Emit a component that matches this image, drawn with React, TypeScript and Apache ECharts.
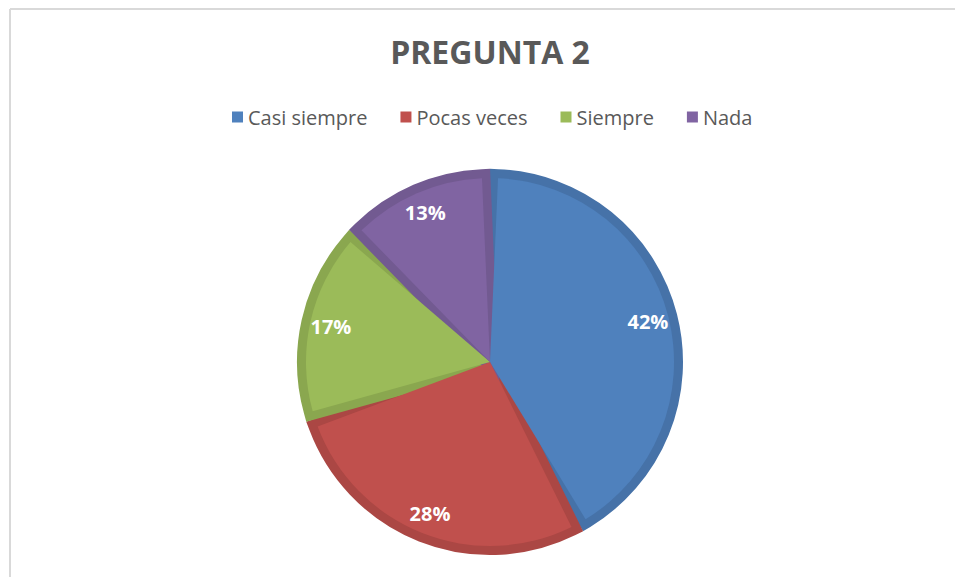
import React, { useEffect, useRef } from "react";
import * as echarts from "echarts";

const categories = ["Casi siempre", "Pocas veces", "Siempre", "Nada"];
const values = [42, 28, 17, 13];
const fillColors = ["#4F81BD", "#C0504D", "#9BBB59", "#8064A2"];
const bandColors = ["#4672A8", "#AB4744", "#8AA74F", "#725A91"];
const titleText = "PREGUNTA 2";

export default function App() {
  const ref = useRef<HTMLDivElement>(null);
  useEffect(() => {
    const chart = echarts.init(ref.current as HTMLDivElement, null, { renderer: "svg" });
    const center = [490, 362];
    const R = 193;
    const pad = 5;
    const base: any = {
      type: "pie",
      center,
      startAngle: 90,
      clockwise: true,
      padAngle: pad,
      avoidLabelOverlap: false,
      silent: true,
      label: { show: false },
      labelLine: { show: false },
      emphasis: { disabled: true },
    };
    chart.setOption({
      animation: false,
      backgroundColor: "#ffffff",
      title: {
        text: titleText,
        left: 490,
        top: 35,
        padding: 0,
        textAlign: "center",
        textStyle: { fontFamily: "Open Sans", fontWeight: "bold", fontSize: 32, color: "#595959" },
      },
      legend: {
        left: 227,
        top: 102,
        icon: "rect",
        itemWidth: 11,
        itemHeight: 11,
        itemGap: 33,
        selectedMode: false,
        data: categories.map((n, i) => ({ name: n, itemStyle: { color: fillColors[i] } })),
        textStyle: { fontFamily: "Open Sans", fontSize: 20, color: "#595959" },
      },
      graphic: [
        { type: "line", shape: { x1: 10, y1: 9, x2: 955, y2: 9 }, style: { stroke: "#d9d9d9", lineWidth: 2 } },
        { type: "line", shape: { x1: 10, y1: 9, x2: 10, y2: 577 }, style: { stroke: "#d9d9d9", lineWidth: 2 } },
      ],
      series: [
        {
          ...base,
          name: "fill",
          z: 3,
          radius: [0, R - 9],
          data: categories.map((n, i) => ({ name: n, value: values[i], itemStyle: { color: fillColors[i], borderWidth: 0 } })),
        },
        {
          ...base,
          name: "band",
          z: 2,
          radius: [0, R - 8.5],
          data: categories.map((n, i) => ({
            name: n,
            value: values[i],
            itemStyle: { color: bandColors[i], borderColor: bandColors[i], borderWidth: 17, borderJoin: "miter", borderMiterLimit: 3 },
          })),
        },
        {
          ...base,
          name: "labels",
          z: 4,
          radius: [127, 193],
          percentPrecision: 0,
          itemStyle: { color: "transparent", borderWidth: 0 },
          data: categories.map((n, i) => ({ name: n, value: values[i] })),
          label: {
            show: true,
            position: "inside",
            formatter: "{d}%",
            color: "#ffffff",
            fontFamily: "Open Sans",
            fontWeight: "bold",
            fontSize: 20,
          },
        },
      ],
    });
    return () => chart.dispose();
  }, []);
  return <div ref={ref} style={{ position: "fixed", left: 0, top: 0, width: 955, height: 577 }} />;
}
